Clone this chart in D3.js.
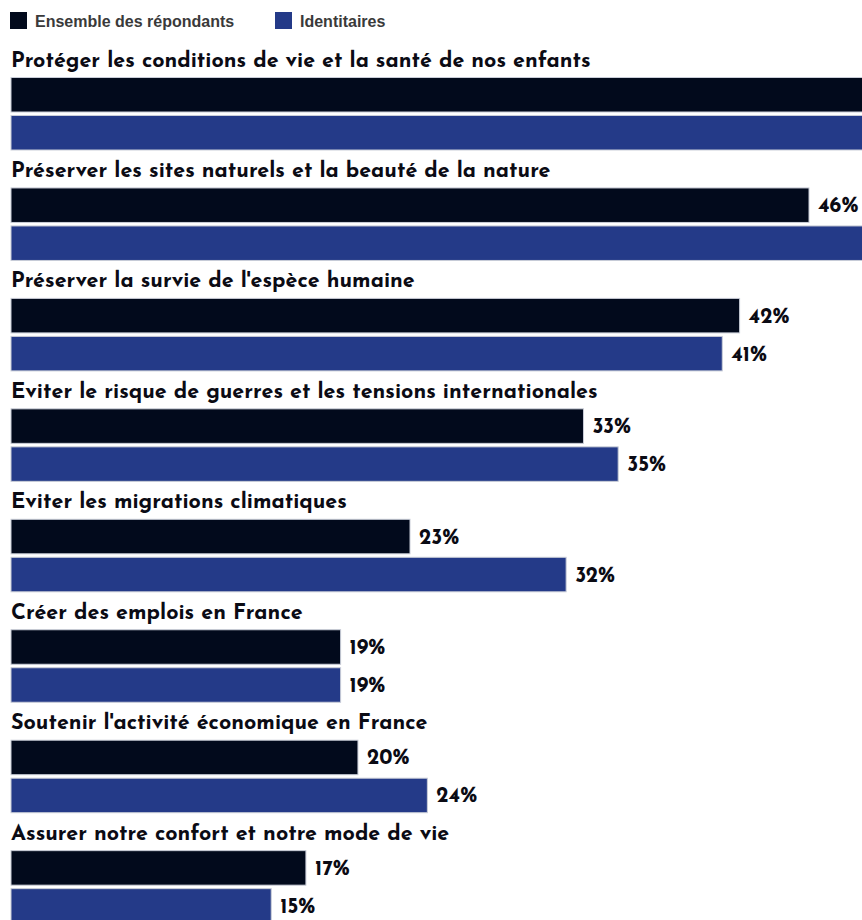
<!DOCTYPE html>
<html>
<head>
<meta charset="utf-8">
<script src="https://cdn.jsdelivr.net/npm/d3@7"></script>
<style>
  body { margin: 0; background: #fff; overflow: hidden; }
  .cat { font-family: "Josefin Sans", Lato, sans-serif; font-weight: 700; fill: #0b0b14; }
  .val { font-family: "Josefin Sans", Lato, sans-serif; font-weight: 700; fill: #0b0b14; }
  .legend { font-family: "Liberation Sans", Arial, sans-serif; font-weight: 700; font-size: 16px; fill: #3a3a3a; }
</style>
</head>
<body>
<svg width="862" height="920"></svg>
<script>
'use strict'

var categories = [
  'Protéger les conditions de vie et la santé de nos enfants',
  'Préserver les sites naturels et la beauté de la nature',
  "Préserver la survie de l'espèce humaine",
  'Eviter le risque de guerres et les tensions internationales',
  'Eviter les migrations climatiques',
  'Créer des emplois en France',
  "Soutenir l'activité économique en France",
  'Assurer notre confort et notre mode de vie'
]
var ensemble = [62, 46, 42, 33, 23, 19, 20, 17]
var identitaires = [56, 52, 41, 35, 32, 19, 24, 15]
var seriesNames = ['Ensemble des répondants', 'Identitaires']
var colours = ['#020a1c', '#243a88']

var svg = d3.select('svg'),
  width = +svg.attr('width'),
  height = +svg.attr('height')

var config = {
  left: 11,
  top: 77.5,
  step: 110.45,
  barHeight: 34.5,
  barGap: 3.5,
  labelFont: 20
}

var x = d3.scaleLinear().domain([0, 46]).range([config.left, 809])
var y = d3.scaleBand().domain(d3.range(categories.length))
  .range([config.top, config.top + config.step * categories.length])
  .paddingInner(0).paddingOuter(0)

// legend
var legend = svg.append('g')
seriesNames.forEach(function(name, i) {
  var lx = i == 0 ? 10 : 275
  legend.append('rect').attr('x', lx).attr('y', 12).attr('width', 17).attr('height', 17)
    .attr('fill', colours[i])
  legend.append('text').attr('class', 'legend').attr('x', lx + 25).attr('y', 27).text(name)
})

var groups = svg.append('g').selectAll('g')
  .data(categories)
  .enter().append('g')
  .attr('transform', function(d, i) { return 'translate(0,' + y(i) + ')' })

groups.append('text')
  .attr('class', 'cat')
  .attr('x', config.left)
  .attr('y', -11)
  .style('font-size', config.labelFont + 'px')
  .text(function(d) { return d })

// fit label font to reference width of first label
var first = groups.select('text.cat').node()
var w = first.getComputedTextLength()
var fs = config.labelFont * 580 / w
groups.selectAll('text.cat').style('font-size', fs + 'px')

var series = [ensemble, identitaires]
series.forEach(function(vals, s) {
  var by = s * (config.barHeight + config.barGap)
  groups.append('rect')
    .attr('x', x(0))
    .attr('y', by)
    .attr('width', function(d, i) { return x(vals[i]) - x(0) })
    .attr('height', config.barHeight)
    .attr('fill', colours[s])
    .attr('stroke', '#c9cdd8')
    .attr('stroke-width', 1)

  // labels of bars running past the frame are off-canvas in the original
  groups.filter(function(d, i) { return x(vals[i]) + 50 < width })
    .append('text')
    .attr('class', 'val')
    .attr('x', function(d) { return x(vals[categories.indexOf(d)]) + 9 })
    .attr('y', by + config.barHeight / 2 + 7)
    .style('font-size', '21px')
    .text(function(d) { return vals[categories.indexOf(d)] + '%' })
})
</script>
</body>
</html>
